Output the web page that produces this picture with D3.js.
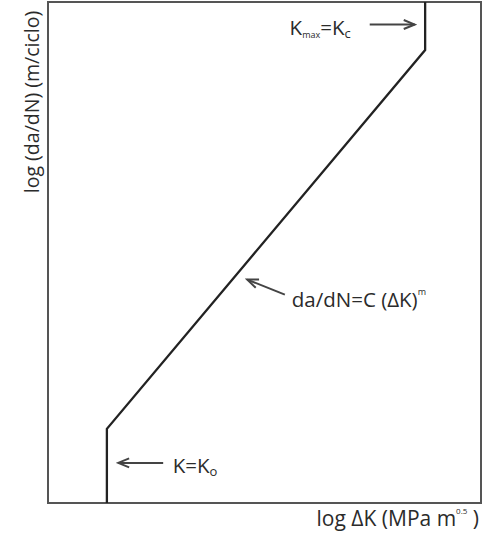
<!DOCTYPE html>
<html>
<head>
<meta charset="utf-8">
<script src="https://cdn.jsdelivr.net/npm/d3@7"></script>
<style>
  body { margin: 0; background: #fff; }
  text { font-family: 'Open Sans', sans-serif; fill: #2b2b2b; }
</style>
</head>
<body>
<div id="chart"></div>
<script>
  // schematic fatigue crack growth curve (log-log, arbitrary units 0..10)
  var logDeltaK = [1.36, 1.36, 8.71, 8.71];
  var logRate = [0, 1.48, 9.04, 10];

  // annotations: text anchor + arrow from/to, all in data units
  var labelNames = ['kmax', 'ko', 'paris'];
  var labelX = [5.58, 2.88, 5.63];
  var labelY = [9.35, 0.6, 3.92];
  var arrowFrom = [[7.43, 9.55], [2.66, 0.8], [5.47, 4.16]];
  var arrowTo = [[8.47, 9.55], [1.62, 0.8], [4.60, 4.46]];

  var width = 483, height = 539;
  var margin = { top: 2, right: 2, bottom: 36, left: 48 };

  var x = d3.scaleLinear().domain([0, 10]).range([margin.left, width - margin.right]);
  var y = d3.scaleLinear().domain([0, 10]).range([height - margin.bottom, margin.top]);

  var svg = d3.select('#chart').append('svg')
    .attr('width', width)
    .attr('height', height);

  svg.append('defs').append('marker')
    .attr('id', 'head')
    .attr('markerUnits', 'userSpaceOnUse')
    .attr('viewBox', '-12 -6 14 12')
    .attr('markerWidth', 14)
    .attr('markerHeight', 12)
    .attr('refX', 0)
    .attr('refY', 0)
    .attr('orient', 'auto')
    .append('path')
    .attr('d', 'M-11,-4.5 L0,0 L-11,4.5')
    .style('fill', 'none')
    .style('stroke', '#444')
    .style('stroke-width', 2);

  // frame
  svg.append('rect')
    .attr('x', x(0))
    .attr('y', y(10))
    .attr('width', x(10) - x(0))
    .attr('height', y(0) - y(10))
    .style('fill', 'none')
    .style('stroke', '#555')
    .style('stroke-width', 2);

  // the curve
  var pts = logDeltaK.map(function (d, i) { return [d, logRate[i]]; });
  var line = d3.line()
    .x(function (d) { return x(d[0]); })
    .y(function (d) { return y(d[1]); });

  svg.append('path')
    .datum(pts)
    .attr('d', line)
    .style('fill', 'none')
    .style('stroke', '#222')
    .style('stroke-width', 2.3)
    .style('stroke-linejoin', 'miter');

  // arrows
  labelNames.forEach(function (n, i) {
    svg.append('line')
      .attr('x1', x(arrowFrom[i][0]))
      .attr('y1', y(arrowFrom[i][1]))
      .attr('x2', x(arrowTo[i][0]))
      .attr('y2', y(arrowTo[i][1]))
      .style('stroke', '#444')
      .style('stroke-width', 2)
      .attr('marker-end', 'url(#head)');
  });

  var fs = 20.5;

  // Kmax = Kc
  var t1 = svg.append('text')
    .attr('x', x(labelX[0])).attr('y', y(labelY[0]))
    .style('font-size', fs + 'px');
  t1.append('tspan').text('K');
  t1.append('tspan').text('max').style('font-size', '9px').attr('dy', 3);
  t1.append('tspan').text('=K').attr('dy', -3);
  t1.append('tspan').text('c').style('font-size', '13px').attr('dy', 3);

  // K = Ko
  var t2 = svg.append('text')
    .attr('x', x(labelX[1])).attr('y', y(labelY[1]))
    .style('font-size', fs + 'px');
  t2.append('tspan').text('K=K');
  t2.append('tspan').text('o').style('font-size', '13px').attr('dy', 3);

  // Paris law
  var t3 = svg.append('text')
    .attr('x', x(labelX[2])).attr('y', y(labelY[2]))
    .style('font-size', fs + 'px');
  t3.append('tspan').text('da/dN=C (ΔK)');
  t3.append('tspan').text('m').style('font-size', '9px').attr('dy', -12);

  // axis titles
  var xt = svg.append('text')
    .attr('x', width - 4)
    .attr('y', height - 13)
    .attr('text-anchor', 'end')
    .style('font-size', '21px');
  xt.append('tspan').text('log ΔK (MPa m');
  xt.append('tspan').text('0.5').style('font-size', '8px').attr('dy', -12);
  xt.append('tspan').text(' )').attr('dy', 12);

  svg.append('text')
    .attr('transform', 'translate(39,' + 102 + ') rotate(-90)')
    .attr('text-anchor', 'middle')
    .style('font-size', '19.5px')
    .text('log (da/dN) (m/ciclo)');
</script>
</body>
</html>
